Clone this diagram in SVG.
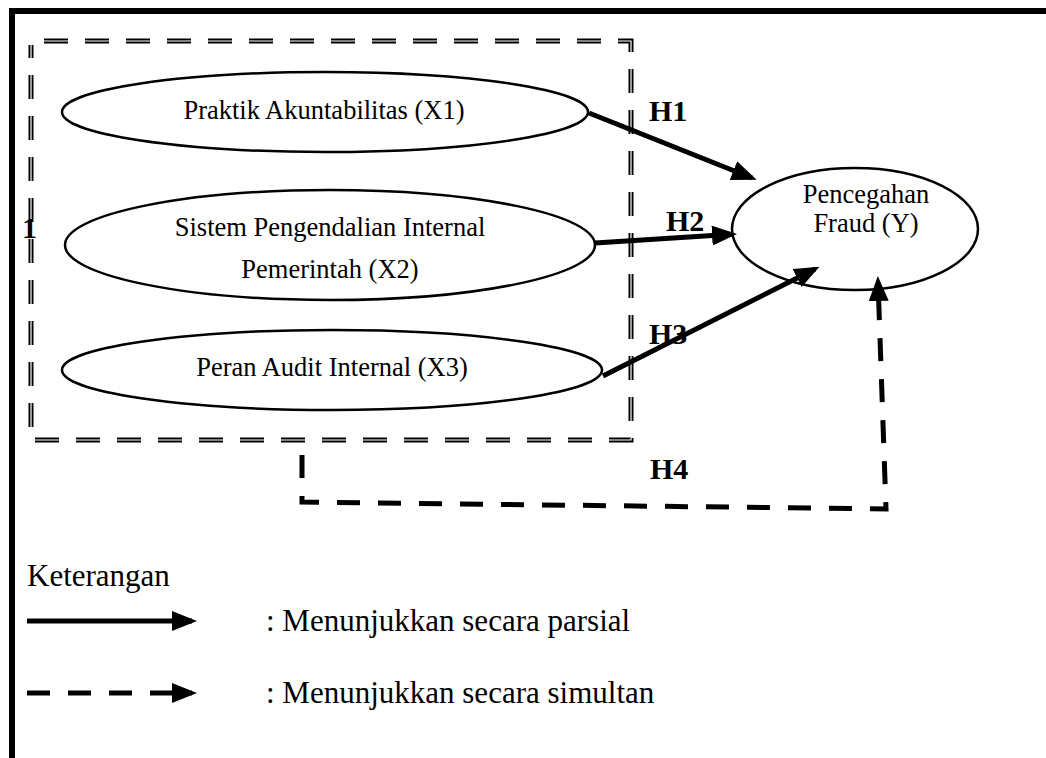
<svg xmlns="http://www.w3.org/2000/svg" width="1046" height="758" viewBox="0 0 1046 758">
<style>
.node{fill:#fff;stroke:#000;stroke-width:2.5}
.t{font-family:"Liberation Serif",serif;font-size:26.5px;fill:#000;text-anchor:middle}
.h{font-family:"Liberation Serif",serif;font-size:30px;font-weight:bold;fill:#000}
.lg{font-family:"Liberation Serif",serif;font-size:31px;fill:#000}
.box{fill:none;stroke:#000;stroke-width:5;stroke-dasharray:24 17}
.boxin{fill:none;stroke:#fff;stroke-width:1.2;stroke-dasharray:24 17}
.solid{stroke:#000;stroke-width:5;fill:none}
.dash{stroke:#000;stroke-width:5;fill:none;stroke-dasharray:23 18}
</style>
<defs>
<marker id="ah" markerWidth="5" markerHeight="4" refX="4" refY="2" orient="auto" markerUnits="strokeWidth">
<path d="M0,0 L5,2 L0,4 z" fill="#000"/>
</marker>
</defs>
<rect width="1046" height="758" fill="#fff"/>
<g id="frame">
<line x1="9" y1="11" x2="1046" y2="11" stroke="#000" stroke-width="6"/>
<line x1="12" y1="8" x2="12" y2="758" stroke="#000" stroke-width="6"/>
</g>
<g id="group-box">
<path class="box" d="M44,41 H631 V440 H31 V45"/>
<path class="boxin" d="M44,41 H631 V440 H31 V45"/>
<text x="22" y="238" class="h" font-size="28">1</text>
</g>
<g id="node-x1">
<ellipse class="node" cx="325" cy="112" rx="263" ry="40"/>
<text class="t" x="324" y="119">Praktik Akuntabilitas (X1)</text>
</g>
<g id="node-x2">
<ellipse class="node" cx="330" cy="245" rx="265" ry="55"/>
<text class="t" x="330" y="236">Sistem Pengendalian Internal</text>
<text class="t" x="330" y="278">Pemerintah (X2)</text>
</g>
<g id="node-x3">
<ellipse class="node" cx="332" cy="370" rx="270" ry="40"/>
<text class="t" x="332" y="376">Peran Audit Internal (X3)</text>
</g>
<g id="node-y">
<ellipse class="node" cx="855" cy="229" rx="123" ry="61"/>
<text class="t" x="866" y="203">Pencegahan</text>
<text class="t" x="866" y="232">Fraud (Y)</text>
</g>
<g id="connectors">
<line class="solid" x1="589" y1="113" x2="752" y2="178" marker-end="url(#ah)"/>
<line class="solid" x1="595" y1="243" x2="732" y2="234.3" marker-end="url(#ah)"/>
<line class="solid" x1="603" y1="376" x2="815" y2="269" marker-end="url(#ah)"/>
<path class="dash" d="M302,455 V502 L886,509 L878,281" marker-end="url(#ah)"/>
<text class="h" x="649" y="121">H1</text>
<text class="h" x="666" y="231">H2</text>
<text class="h" x="649" y="344">H3</text>
<text class="h" x="650" y="479">H4</text>
</g>
<g id="legend">
<text class="lg" x="27" y="586">Keterangan</text>
<line class="solid" x1="27" y1="621" x2="192" y2="621" marker-end="url(#ah)"/>
<text class="lg" x="266" y="631">: Menunjukkan secara parsial</text>
<line class="dash" x1="27" y1="693" x2="192" y2="693" marker-end="url(#ah)"/>
<text class="lg" x="266" y="703">: Menunjukkan secara simultan</text>
</g>
</svg>
